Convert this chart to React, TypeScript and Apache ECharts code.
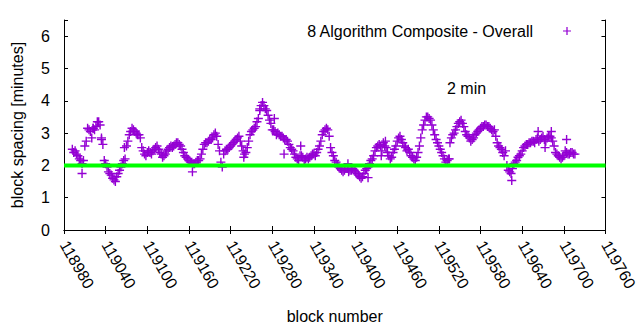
import React, { useEffect, useRef } from "react";
import * as echarts from "echarts";

const xTickMin = 118980;
const xTickMax = 119760;
const xTickStep = 60;
const yTickMax = 6.5;

const seriesName = "8 Algorithm Composite - Overall";
const refLabel = "2 min";
const refLevel = 2;

const blockNumbers = [
  118992, 118996, 119000, 119004, 119008, 119012, 119016, 119020, 119024, 119028,
  119032, 119036, 119040, 119044, 119048, 119052, 119056, 119060, 119064, 119068,
  119072, 119076, 119080, 119084, 119088, 119092, 119096, 119100, 119104, 119108,
  119112, 119116, 119120, 119124, 119128, 119132, 119136, 119140, 119144, 119148,
  119152, 119156, 119160, 119164, 119168, 119172, 119176, 119180, 119184, 119188,
  119192, 119196, 119200, 119204, 119208, 119212, 119216, 119220, 119224, 119228,
  119232, 119236, 119240, 119244, 119248, 119252, 119256, 119260, 119264, 119268,
  119272, 119276, 119280, 119284, 119288, 119292, 119296, 119300, 119304, 119308,
  119312, 119316, 119320, 119324, 119328, 119332, 119336, 119340, 119344, 119348,
  119352, 119356, 119360, 119364, 119368, 119372, 119376, 119380, 119384, 119388,
  119392, 119396, 119400, 119404, 119408, 119412, 119416, 119420, 119424, 119428,
  119432, 119436, 119440, 119444, 119448, 119452, 119456, 119460, 119464, 119468,
  119472, 119476, 119480, 119484, 119488, 119492, 119496, 119500, 119504, 119508,
  119512, 119516, 119520, 119524, 119528, 119532, 119536, 119540, 119544, 119548,
  119552, 119556, 119560, 119564, 119568, 119572, 119576, 119580, 119584, 119588,
  119592, 119596, 119600, 119604, 119608, 119612, 119616, 119620, 119624, 119628,
  119632, 119636, 119640, 119644, 119648, 119652, 119656, 119660, 119664, 119668,
  119672, 119676, 119680, 119684, 119688, 119692, 119696, 119700, 119704, 119708,
  119712, 119716,
];

const spacingMinutes = [
  2.5, 2.45, 2.3, 2.15, 2.15, 2.75, 3.1, 2.85, 3.1, 3.35,
  3.25, 2.65, 2.05, 1.8, 1.7, 1.55, 1.65, 1.85, 2.05, 2.2,
  2.75, 3.05, 3.1, 3.0, 2.95, 2.55, 2.35, 2.4, 2.4, 2.45,
  2.55, 2.5, 2.35, 2.3, 2.45, 2.55, 2.55, 2.65, 2.7, 2.6,
  2.4, 2.25, 2.15, 2.1, 2.05, 2.15, 2.2, 2.5, 2.7, 2.75,
  2.8, 2.95, 2.9, 2.45, 1.95, 2.45, 2.5, 2.6, 2.7, 2.8,
  2.9, 2.6, 2.35, 2.55, 2.95, 3.1, 3.2, 3.45, 3.85, 3.85,
  3.7, 3.4, 3.1, 3.05, 3.0, 2.9, 2.85, 2.8, 2.65, 2.5,
  2.35, 2.2, 2.3, 2.25, 2.2, 2.2, 2.3, 2.35, 2.4, 2.6,
  2.95, 3.1, 3.1, 2.55, 2.3, 2.1, 1.95, 1.85, 1.85, 1.9,
  1.85, 1.9, 1.8, 1.7, 1.6, 1.75, 1.9, 2.05, 2.2, 2.45,
  2.6, 2.6, 2.7, 2.55, 2.3, 2.25, 2.5, 2.75, 2.9, 2.7,
  2.55, 2.5, 2.3, 2.2, 2.25, 2.6, 3.1, 3.4, 3.5, 3.4,
  3.1, 2.8, 2.6, 2.4, 2.2, 2.15, 2.7, 2.95, 3.1, 3.3,
  3.4, 3.2, 2.95, 2.85, 2.8, 2.95, 3.05, 3.15, 3.2, 3.25,
  3.2, 3.1, 3.1, 2.7, 2.55, 2.4, 2.45, 1.85, 1.75, 2.05,
  2.15, 2.3, 2.45, 2.6, 2.65, 2.7, 2.75, 2.8, 2.75, 2.85,
  2.8, 2.85, 2.9, 2.75, 2.4, 2.3, 2.2, 2.3, 2.4, 2.35,
  2.4, 2.35,
];

const midBlockNumbers = [
  118994, 118998, 119002, 119006, 119010, 119014, 119018, 119022, 119026, 119030,
  119034, 119038, 119042, 119046, 119050, 119054, 119058, 119062, 119066, 119070,
  119074, 119078, 119082, 119086, 119090, 119094, 119098, 119102, 119106, 119110,
  119114, 119118, 119122, 119126, 119130, 119134, 119138, 119142, 119146, 119150,
  119154, 119158, 119162, 119166, 119170, 119174, 119178, 119182, 119186, 119190,
  119194, 119198, 119202, 119206, 119210, 119214, 119218, 119222, 119226, 119230,
  119234, 119238, 119242, 119246, 119250, 119254, 119258, 119262, 119266, 119270,
  119274, 119278, 119282, 119286, 119290, 119294, 119298, 119302, 119306, 119310,
  119314, 119318, 119322, 119326, 119330, 119334, 119338, 119342, 119346, 119350,
  119354, 119358, 119362, 119366, 119370, 119374, 119378, 119382, 119386, 119390,
  119394, 119398, 119402, 119406, 119410, 119414, 119418, 119422, 119426, 119430,
  119434, 119438, 119442, 119446, 119450, 119454, 119458, 119462, 119466, 119470,
  119474, 119478, 119482, 119486, 119490, 119494, 119498, 119502, 119506, 119510,
  119514, 119518, 119522, 119526, 119530, 119534, 119538, 119542, 119546, 119550,
  119554, 119558, 119562, 119566, 119570, 119574, 119578, 119582, 119586, 119590,
  119594, 119598, 119602, 119606, 119610, 119614, 119618, 119622, 119626, 119630,
  119634, 119638, 119642, 119646, 119650, 119654, 119658, 119662, 119666, 119670,
  119674, 119678, 119682, 119686, 119690, 119694, 119698, 119702, 119706, 119710,
  119714,
];

const midSpacingMinutes = [
  2.4, 2.35, 2.2, 2.05, 2.6, 3.15, 3.05, 3.15, 3.2, 3.35,
  2.8, 2.15, 1.95, 1.75, 1.6, 1.5, 1.75, 1.95, 2.15, 2.6,
  2.95, 3.15, 3.05, 2.95, 2.85, 2.45, 2.3, 2.45, 2.35, 2.5,
  2.6, 2.4, 2.25, 2.35, 2.5, 2.6, 2.6, 2.7, 2.65, 2.5,
  2.3, 2.2, 2.1, 2.05, 2.1, 2.15, 2.35, 2.65, 2.7, 2.8,
  2.85, 3.0, 2.65, 2.1, 2.35, 2.5, 2.55, 2.65, 2.75, 2.85,
  2.75, 2.45, 2.4, 2.75, 3.05, 3.15, 3.35, 3.7, 3.95, 3.75,
  3.55, 3.3, 3.1, 2.95, 2.95, 2.9, 2.8, 2.75, 2.55, 2.45,
  2.25, 2.15, 2.3, 2.15, 2.25, 2.25, 2.35, 2.3, 2.5, 2.75,
  3.05, 3.15, 2.9, 2.4, 2.15, 2.0, 1.9, 1.8, 1.9, 1.8,
  1.85, 1.85, 1.75, 1.65, 1.65, 1.85, 1.95, 2.15, 2.3, 2.55,
  2.65, 2.45, 2.6, 2.4, 2.2, 2.4, 2.6, 2.85, 2.8, 2.6,
  2.45, 2.4, 2.25, 2.15, 2.4, 2.85, 3.25, 3.5, 3.45, 3.25,
  2.95, 2.7, 2.5, 2.3, 2.1, 2.2, 2.85, 3.0, 3.2, 3.35,
  3.3, 3.05, 2.9, 2.75, 2.85, 3.0, 3.1, 3.2, 3.25, 3.2,
  3.15, 3.05, 2.9, 2.6, 2.5, 2.3, 2.0, 1.8, 1.9, 2.1,
  2.25, 2.35, 2.55, 2.65, 2.7, 2.75, 2.7, 2.85, 2.8, 2.9,
  2.75, 2.9, 2.85, 2.6, 2.35, 2.25, 2.25, 2.45, 2.35, 2.4,
  2.35,
];

const strayBlocks = [
  119006, 119022, 119034, 119067, 119165, 119239, 119262, 119283, 119297, 119321,
  119389, 119418, 119437, 119443, 119535, 119625, 119663, 119673, 119682, 119704,
];
const straySpacing = [
  1.75, 3.15, 2.85, 2.55, 1.8, 2.25, 3.75, 3.45, 2.35, 2.6,
  2.05, 1.62, 2.3, 2.75, 2.2, 1.53, 3.05, 2.55, 3.05, 2.8,
];

const FONT = "'Liberation Sans', Arial, sans-serif";
const PURPLE = "#9400d3";
const CROSS = "path://M3.8,0H5.2V3.8H9V5.2H5.2V9H3.8V5.2H0V3.8H3.8Z";

export default function App() {
  const ref = useRef<HTMLDivElement>(null);
  useEffect(() => {
    if (!ref.current) return;
    const chart = echarts.init(ref.current, null, { renderer: "svg" });
    const points: number[][] = [];
    blockNumbers.forEach((b, i) => points.push([b, spacingMinutes[i]]));
    midBlockNumbers.forEach((b, i) => points.push([b, midSpacingMinutes[i]]));
    strayBlocks.forEach((b, i) => points.push([b, straySpacing[i]]));

    const axisLine = { show: true, lineStyle: { color: "#000", width: 1 } };
    const axisTick = { show: true, inside: true, length: 4, lineStyle: { color: "#000" } };
    const labelText = { color: "#000", fontSize: 16, fontFamily: FONT };

    chart.setOption({
      animation: false,
      backgroundColor: "#fff",
      grid: { left: 64, right: 31, top: 20, bottom: 100, containLabel: false },
      legend: {
        data: [seriesName],
        right: 69,
        top: 23,
        padding: 0,
        align: "right",
        itemWidth: 8,
        itemHeight: 8,
        textStyle: { ...labelText, padding: [0, 25, 0, 0] },
      },
      xAxis: [
        {
          type: "value",
          min: xTickMin,
          max: xTickMax,
          interval: xTickStep,
          position: "bottom",
          axisLine,
          axisTick,
          splitLine: { show: false },
          axisLabel: {
            ...labelText,
            rotate: -60,
            margin: 12,
            formatter: (v: number) => String(v),
          },
          name: "block number",
          nameLocation: "middle",
          nameGap: 78,
          nameTextStyle: labelText,
        },
        {
          type: "value",
          min: xTickMin,
          max: xTickMax,
          interval: xTickStep,
          position: "top",
          axisLine,
          axisTick,
          splitLine: { show: false },
          axisLabel: { show: false },
        },
      ],
      yAxis: [
        {
          type: "value",
          min: 0,
          max: yTickMax,
          interval: 1,
          position: "left",
          axisLine,
          axisTick,
          splitLine: { show: false },
          axisLabel: {
            ...labelText,
            margin: 14,
            formatter: (v: number) => (Number.isInteger(v) ? String(v) : ""),
          },
          name: "block spacing [minutes]",
          nameLocation: "middle",
          nameGap: 39,
          nameTextStyle: labelText,
        },
        {
          type: "value",
          min: 0,
          max: yTickMax,
          interval: 1,
          position: "right",
          axisLine,
          axisTick,
          splitLine: { show: false },
          axisLabel: { show: false },
        },
      ],
      series: [
        {
          name: seriesName,
          type: "scatter",
          symbol: CROSS,
          symbolSize: 9,
          itemStyle: { color: PURPLE, opacity: 1 },
          data: points,
          z: 2,
        },
        {
          name: refLabel,
          type: "line",
          symbol: "none",
          data: [
            [xTickMin, refLevel],
            [xTickMax, refLevel],
          ],
          lineStyle: { color: "#00ff00", width: 4 },
          itemStyle: { color: "#00ff00" },
          z: 3,
        },
      ],
      graphic: [
        {
          type: "text",
          x: 447,
          y: 88,
          style: {
            text: refLabel,
            fill: "#000",
            font: `16px ${FONT}`,
            verticalAlign: "middle",
          },
          z: 10,
        },
      ],
    });
    return () => chart.dispose();
  }, []);
  return (
    <div
      ref={ref}
      style={{ position: "absolute", left: 0, top: 0, width: 640, height: 330 }}
    />
  );
}
